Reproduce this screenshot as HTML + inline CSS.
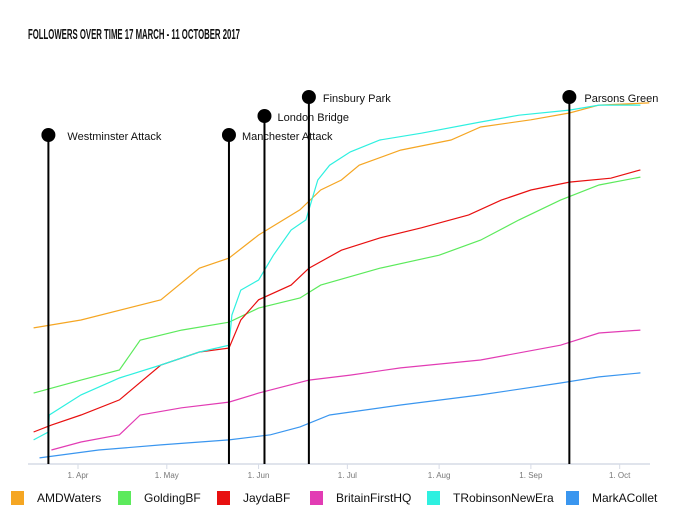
<!DOCTYPE html>
<html><head><meta charset="utf-8"><style>
html,body{margin:0;padding:0;background:#fff;}
svg{display:block;font-family:"Liberation Sans",sans-serif;}
</style></head><body>
<svg width="680" height="518" viewBox="0 0 680 518">
<text x="28" y="39" font-size="15" font-weight="bold" textLength="212" lengthAdjust="spacingAndGlyphs" fill="#111">FOLLOWERS OVER TIME  17 MARCH - 11 OCTOBER 2017</text>
<g id="plot"></g>
</svg>
<script>
const seriesNames = ["AMDWaters","GoldingBF","JaydaBF","BritainFirstHQ","TRobinsonNewEra","MarkACollet"];
const seriesColors = ["#f5a623","#5cea5c","#e81010","#e23cb4","#2ef0e0","#3a96ef"];
// day offsets since 17 March, values (arbitrary scale 0-100)
const amdDays = [0,16,43,56,66,76,90,97,104,110,124,141,151,168,181,191,208];
const amdVals = [37.8,40,45.6,54.4,57.2,63.6,70.6,76.1,78.9,83,87.2,90,93.6,95.6,97.5,99.7,100.3];
const goldDays = [0,16,29,36,50,66,76,90,97,117,137,151,164,178,191,205];
const goldVals = [19.7,23.3,26.1,34.4,37.2,39.4,43.3,46.1,49.7,54.4,58,62.2,67.8,73.3,77.5,79.7];
const jaydaDays = [0,6,16,29,43,56,66,70,76,87,93,104,117,131,147,158,168,181,195,205];
const jaydaVals = [8.9,10.8,13.6,17.8,27.5,31.1,32.2,40,45.6,49.7,54.4,59.4,62.8,65.6,69.2,73.3,76.1,78.3,79.4,81.7];
const bfDays = [6,16,29,36,50,66,76,93,107,124,151,178,191,205];
const bfVals = [3.9,6.1,8.1,13.6,15.6,17.2,19.7,23.3,24.7,26.7,28.9,33,36.4,37.2];
const trDays = [0,5,5.3,16,29,43,56,66,67,70,76,81,87,92,93,96,100,107,117,131,151,164,181,191,205];
const trVals = [6.7,8.9,13.6,19.2,23.9,27.5,31.1,33,41.4,48.3,51.1,58,65,67.8,70.6,78.9,83,86.7,90,91.9,95,96.9,98.3,99.7,99.7];
const macDays = [2,22,43,66,80,90,100,124,151,178,191,205];
const macVals = [1.7,3.9,5.3,6.7,8.1,10.3,13.6,16.4,19.2,22.5,24.2,25.3];
const tickLabels = ["1. Apr","1. May","1. Jun","1. Jul","1. Aug","1. Sep","1. Oct"];
const tickDays = [15,45,76,106,137,168,198];
const eventNames = ["Westminster Attack","Manchester Attack","London Bridge","Finsbury Park","Parsons Green"];
const eventDays = [5,66,78,93,181];
const eventLevel = [0,0,1,2,2];

const X0=33.6, PXD=2.96, Y0=464, PXV=3.6;
const xs=d=>X0+d*PXD, ys=v=>Y0-v*PXV;
const NS="http://www.w3.org/2000/svg";
const plot=document.getElementById('plot');
function mk(t,a){const e=document.createElementNS(NS,t);for(const k in a)e.setAttribute(k,a[k]);plot.appendChild(e);return e;}

const axis=mk('line',{x1:28,y1:Y0,x2:650,y2:Y0,stroke:'#d6dbe6','stroke-width':1.5});


tickDays.forEach((d,i)=>{
  const tk=mk('line',{x1:xs(d),y1:Y0,x2:xs(d),y2:Y0+5,stroke:'#d6dbe6'});
  
  
  const t=mk('text',{x:xs(d),y:Y0+14,'font-size':8,fill:'#777','text-anchor':'middle'});
  t.textContent=tickLabels[i];
  
  
});

const allDays=[amdDays,goldDays,jaydaDays,bfDays,trDays,macDays];
const allVals=[amdVals,goldVals,jaydaVals,bfVals,trVals,macVals];
allDays.forEach((ds,i)=>{
  const pts=ds.map((d,j)=>xs(d).toFixed(1)+','+ys(allVals[i][j]).toFixed(1)).join(' ');
  const p=mk('polyline',{points:pts,fill:'none',stroke:seriesColors[i],'stroke-width':1.2});
  
  
});

const levelY=[135,116,97];
const labelOff=[19,13,13,14,15];
eventDays.forEach((d,i)=>{
  const x=xs(d), y=levelY[eventLevel[i]];
  const l=mk('line',{x1:x,y1:y,x2:x,y2:Y0,stroke:'#000','stroke-width':2});
  
  
  const c=mk('circle',{cx:x,cy:y,r:7,fill:'#000'});
  
  
  const t=mk('text',{x:x+labelOff[i],y:y+5,'font-size':11,fill:'#111'});
  t.textContent=eventNames[i];
  
  
});

const legX=[11,118,217,310,427,566];
seriesNames.forEach((n,i)=>{
  const r=mk('rect',{x:legX[i],y:491,width:13,height:14,fill:seriesColors[i]});
  
  
  const t=mk('text',{x:legX[i]+26,y:502,'font-size':12,fill:'#111'});
  t.textContent=n;
  
  
});
</script>
</body></html>
